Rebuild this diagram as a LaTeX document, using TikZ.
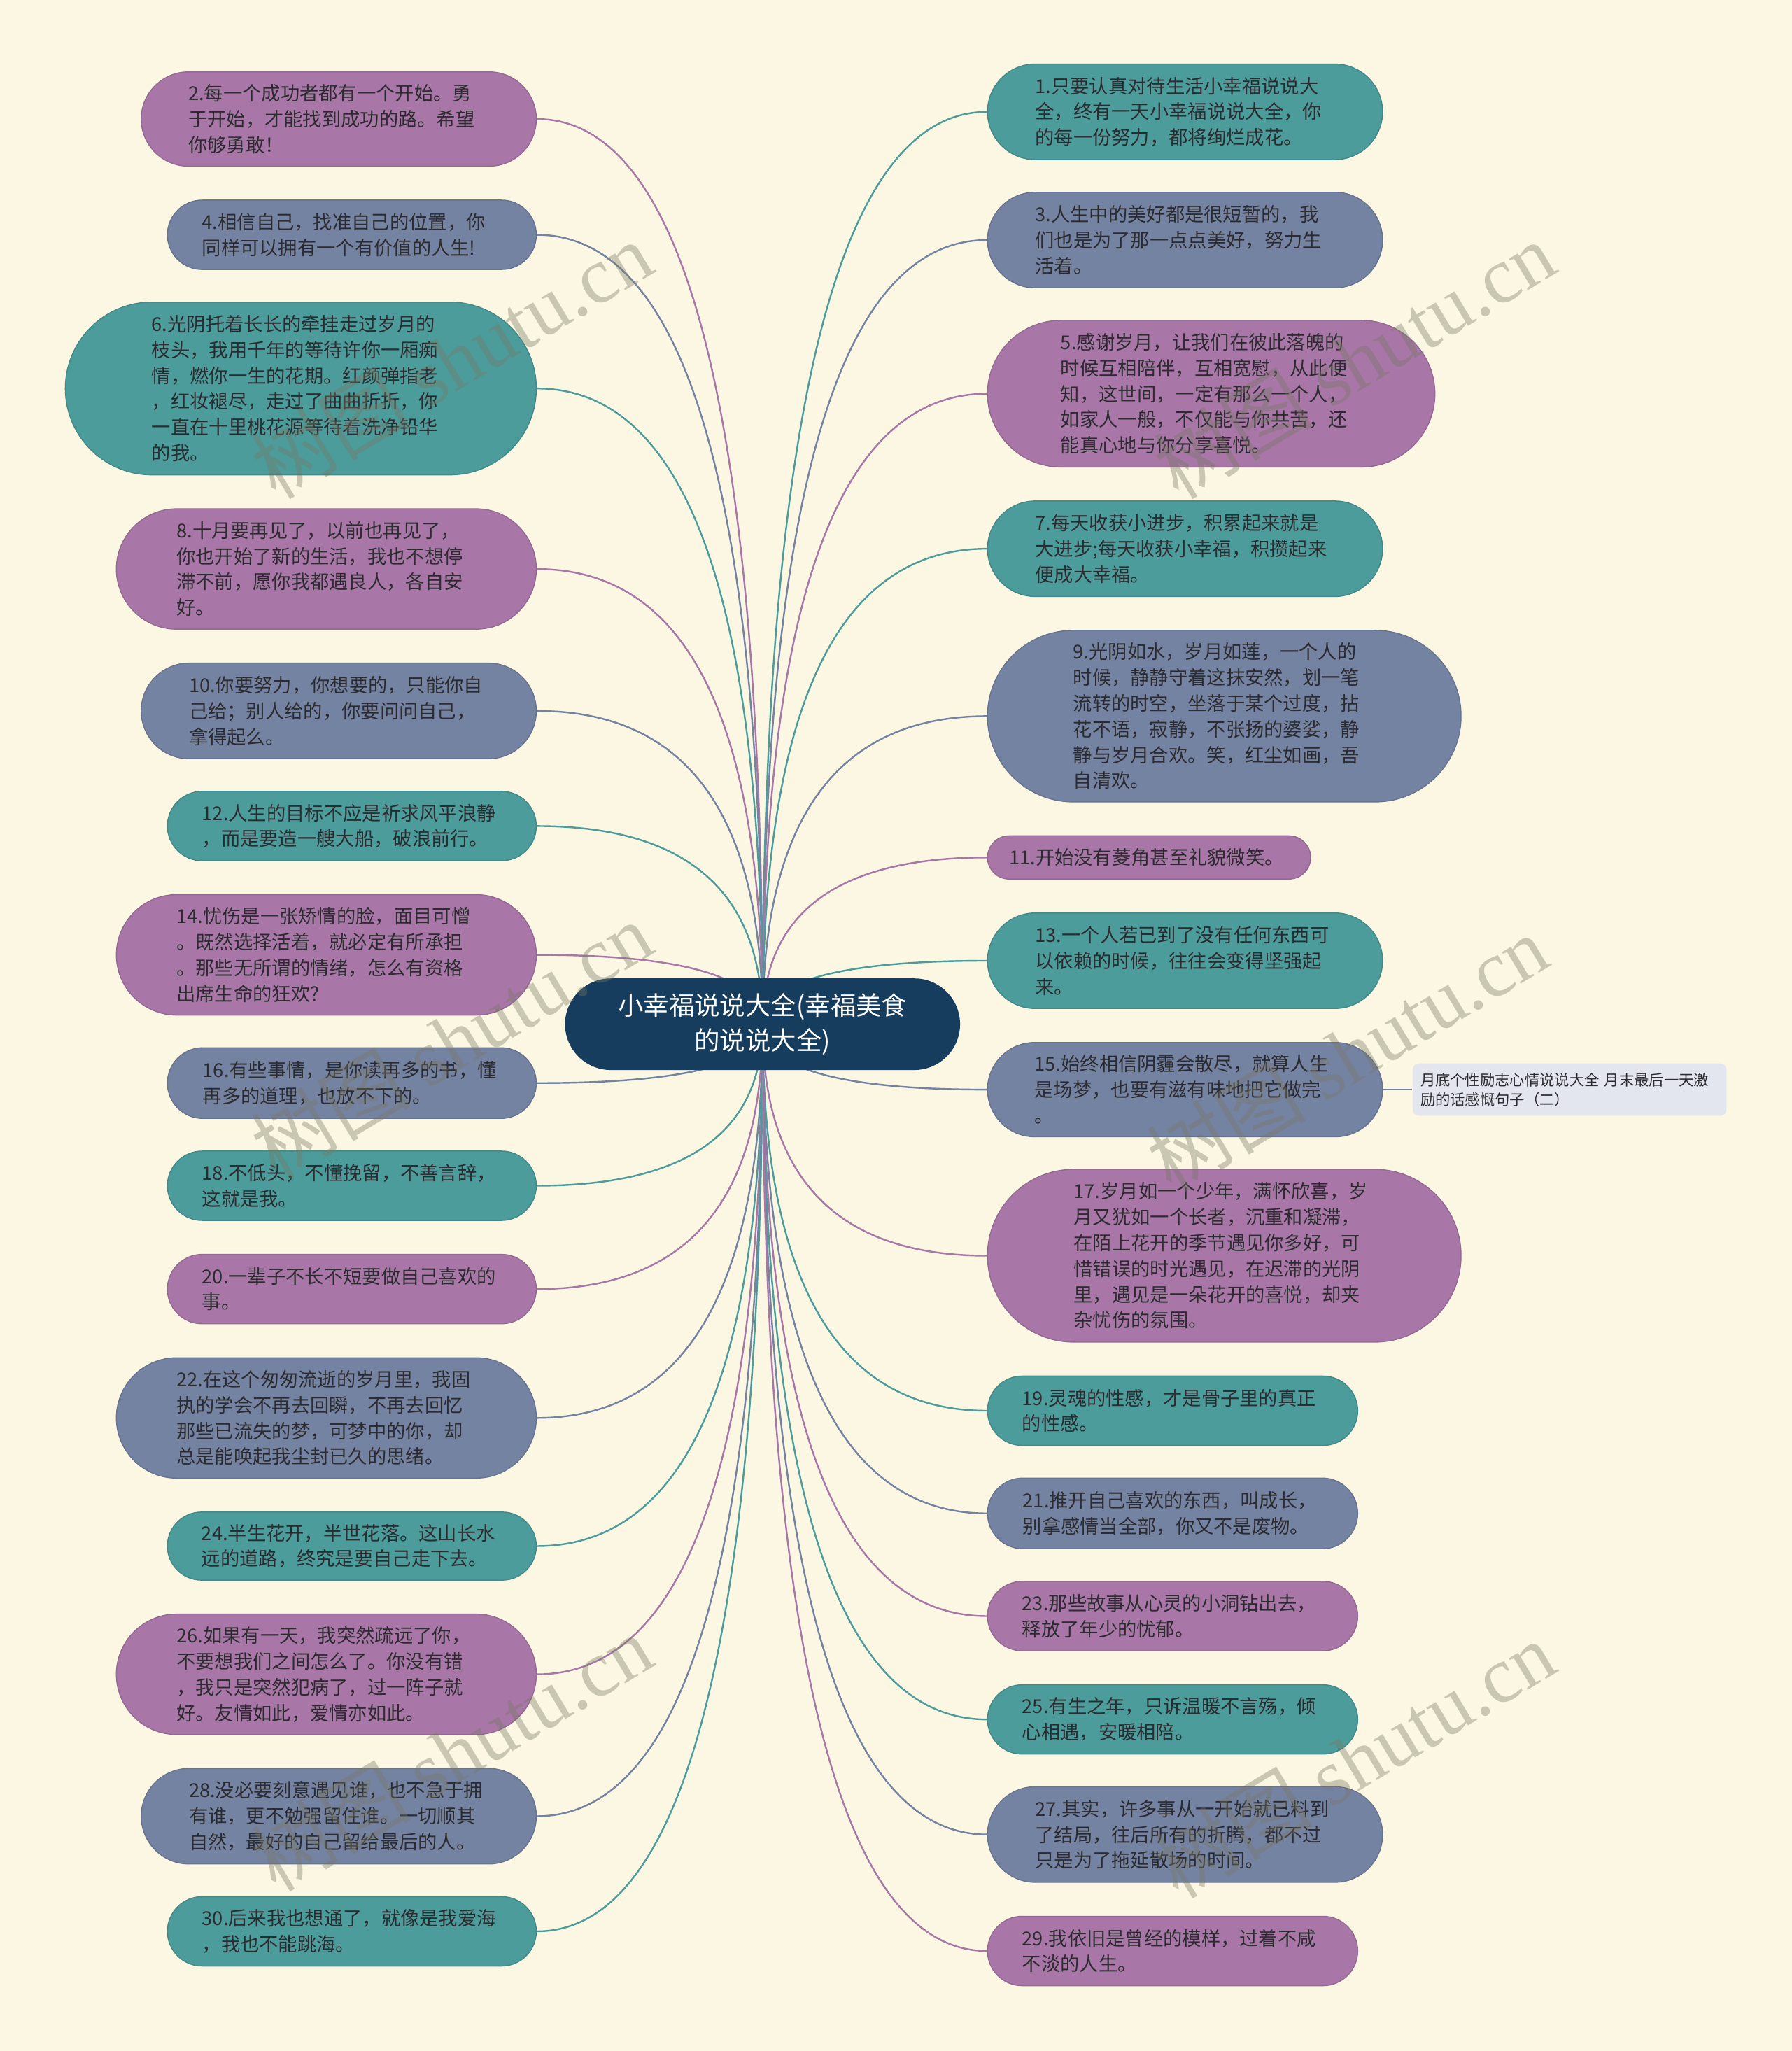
\documentclass[tikz,border=0pt]{standalone}
\usepackage{fontspec}
\setmainfont{Noto Sans CJK SC}
\newfontfamily\wmlatin{Liberation Serif}
\usetikzlibrary{calc}
\definecolor{bgc}{RGB}{251,247,226}
\definecolor{purp}{RGB}{168,119,167}
\definecolor{slat}{RGB}{117,131,163}
\definecolor{tealc}{RGB}{76,156,156}
\definecolor{navyc}{RGB}{23,61,94}
\definecolor{txt}{RGB}{44,44,48}
\definecolor{smallc}{RGB}{227,230,238}
\definecolor{wmc}{RGB}{120,120,100}
\pgfdeclarelayer{back}\pgfdeclarelayer{edges}\pgfdeclarelayer{front}
\pgfsetlayers{back,edges,main,front}
\tikzset{
  bubble/.style={rectangle, inner sep=0pt, align=left, text=txt,
    font=\fontsize{14.6}{19.7}\selectfont, line width=0.8pt},
  rootn/.style={rectangle, inner sep=0pt, fill=navyc, rounded corners=35pt,
    minimum width=302pt, minimum height=70pt, text=white, align=center,
    font=\fontsize{19.5}{27}\selectfont},
  smalln/.style={rectangle, inner sep=0pt, fill=smallc, rounded corners=5pt,
    minimum width=240pt, minimum height=40pt, text width=228pt, align=left,
    text=txt, font=\fontsize{11.4}{15}\selectfont},
  wm/.style={text=wmc, text opacity=0.38, font=\fontsize{61}{61}\selectfont},
  ep/.style={draw=purp, line width=1.3pt},
  es/.style={draw=slat, line width=1.3pt},
  et/.style={draw=tealc, line width=1.3pt}
}
\newcommand\bub[7]{%
  \pgfmathsetmacro\bw{#4-#3}%
  \pgfmathsetmacro\bh{#6-#5}%
  \pgfmathsetmacro\br{\bh/2}%
  \pgfmathsetmacro\btw{\bw-\bh}%
  \node[bubble, fill=#2, draw=#2!88!black, minimum width=\bw pt,
    minimum height=\bh pt, rounded corners=\br pt, text width=\btw pt]
    (#1) at ({(#3+#4)/2},{(#5+#6)/2}) {#7};}
\newcommand\lnk[3]{\draw[#1] (root.center) .. controls
  ($(root.center)!0.667!(root.center|-#2.#3)$) and
  ($(#2.#3)!0.667!(root.center|-#2.#3)$) .. (#2.#3);}
\begin{document}
\begin{tikzpicture}[x=1pt,y=-1pt]
\useasboundingbox (0,0) rectangle (1370,1568);
\begin{pgfonlayer}{back}
\fill[bgc] (0,0) rectangle (1370,1568);
\end{pgfonlayer}

\node[rootn] (root) at (583,783) {小幸福说说大全(幸福美食\\的说说大全)};

% left column
\bub{n2}{purp}{108}{410}{55}{127}{2.每一个成功者都有一个开始。勇\\于开始，才能找到成功的路。希望\\你够勇敢！}
\bub{n4}{slat}{128}{410}{153}{206}{4.相信自己，找准自己的位置，你\\同样可以拥有一个有价值的人生!}
\bub{n6}{tealc}{50}{410}{231}{363}{6.光阴托着长长的牵挂走过岁月的\\枝头，我用千年的等待许你一厢痴\\情，燃你一生的花期。红颜弹指老\\，红妆褪尽，走过了曲曲折折，你\\一直在十里桃花源等待着洗净铅华\\的我。}
\bub{n8}{purp}{89}{410}{389}{481}{8.十月要再见了，以前也再见了，\\你也开始了新的生活，我也不想停\\滞不前，愿你我都遇良人，各自安\\好。}
\bub{n10}{slat}{108}{410}{507}{580}{10.你要努力，你想要的，只能你自\\己给；别人给的，你要问问自己，\\拿得起么。}
\bub{n12}{tealc}{128}{410}{605}{658}{12.人生的目标不应是祈求风平浪静\\，而是要造一艘大船，破浪前行。}
\bub{n14}{purp}{89}{410}{684}{776}{14.忧伤是一张矫情的脸，面目可憎\\。既然选择活着，就必定有所承担\\。那些无所谓的情绪，怎么有资格\\出席生命的狂欢?}
\bub{n16}{slat}{128}{410}{801}{855}{16.有些事情，是你读再多的书，懂\\再多的道理，也放不下的。}
\bub{n18}{tealc}{128}{410}{880}{933}{18.不低头，不懂挽留，不善言辞，\\这就是我。}
\bub{n20}{purp}{128}{410}{959}{1012}{20.一辈子不长不短要做自己喜欢的\\事。}
\bub{n22}{slat}{89}{410}{1038}{1130}{22.在这个匆匆流逝的岁月里，我固\\执的学会不再去回瞬，不再去回忆\\那些已流失的梦，可梦中的你，却\\总是能唤起我尘封已久的思绪。}
\bub{n24}{tealc}{128}{410}{1156}{1208}{24.半生花开，半世花落。这山长水\\远的道路，终究是要自己走下去。}
\bub{n26}{purp}{89}{410}{1234}{1326}{26.如果有一天，我突然疏远了你，\\不要想我们之间怎么了。你没有错\\，我只是突然犯病了，过一阵子就\\好。友情如此，爱情亦如此。}
\bub{n28}{slat}{108}{410}{1352}{1425}{28.没必要刻意遇见谁，也不急于拥\\有谁，更不勉强留住谁。一切顺其\\自然，最好的自己留给最后的人。}
\bub{n30}{tealc}{128}{410}{1450}{1503}{30.后来我也想通了，就像是我爱海\\，我也不能跳海。}

% right column
\bub{n1}{tealc}{755}{1057}{49}{122}{1.只要认真对待生活小幸福说说大\\全，终有一天小幸福说说大全，你\\的每一份努力，都将绚烂成花。}
\bub{n3}{slat}{755}{1057}{147}{220}{3.人生中的美好都是很短暂的，我\\们也是为了那一点点美好，努力生\\活着。}
\bub{n5}{purp}{755}{1097}{245}{357}{5.感谢岁月，让我们在彼此落魄的\\时候互相陪伴，互相宽慰，从此便\\知，这世间，一定有那么一个人，\\如家人一般，不仅能与你共苦，还\\能真心地与你分享喜悦。}
\bub{n7}{tealc}{755}{1057}{383}{456}{7.每天收获小进步，积累起来就是\\大进步;每天收获小幸福，积攒起来\\便成大幸福。}
\bub{n9}{slat}{755}{1117}{482}{613}{9.光阴如水，岁月如莲，一个人的\\时候，静静守着这抹安然，划一笔\\流转的时空，坐落于某个过度，拈\\花不语，寂静，不张扬的婆娑，静\\静与岁月合欢。笑，红尘如画，吾\\自清欢。}
\bub{n11}{purp}{755}{1002}{639}{672}{11.开始没有菱角甚至礼貌微笑。}
\bub{n13}{tealc}{755}{1057}{698}{771}{13.一个人若已到了没有任何东西可\\以依赖的时候，往往会变得坚强起\\来。}
\bub{n15}{slat}{755}{1057}{797}{869}{15.始终相信阴霾会散尽，就算人生\\是场梦，也要有滋有味地把它做完\\。}
\bub{n17}{purp}{755}{1117}{894}{1026}{17.岁月如一个少年，满怀欣喜，岁\\月又犹如一个长者，沉重和凝滞，\\在陌上花开的季节遇见你多好，可\\惜错误的时光遇见，在迟滞的光阴\\里，遇见是一朵花开的喜悦，却夹\\杂忧伤的氛围。}
\bub{n19}{tealc}{755}{1038}{1052}{1105}{19.灵魂的性感，才是骨子里的真正\\的性感。}
\bub{n21}{slat}{755}{1038}{1130}{1184}{21.推开自己喜欢的东西，叫成长，\\别拿感情当全部，你又不是废物。}
\bub{n23}{purp}{755}{1038}{1209}{1262}{23.那些故事从心灵的小洞钻出去，\\释放了年少的忧郁。}
\bub{n25}{tealc}{755}{1038}{1288}{1341}{25.有生之年，只诉温暖不言殇，倾\\心相遇，安暖相陪。}
\bub{n27}{slat}{755}{1057}{1366}{1439}{27.其实，许多事从一开始就已料到\\了结局，往后所有的折腾，都不过\\只是为了拖延散场的时间。}
\bub{n29}{purp}{755}{1038}{1465}{1518}{29.我依旧是曾经的模样，过着不咸\\不淡的人生。}

\node[smalln] (s15) at (1200,833) {月底个性励志心情说说大全 月末最后一天激\\励的话感慨句子（二）};

\begin{pgfonlayer}{edges}
\lnk{ep}{n2}{east}\lnk{es}{n4}{east}\lnk{et}{n6}{east}
\lnk{ep}{n8}{east}\lnk{es}{n10}{east}\lnk{et}{n12}{east}
\lnk{ep}{n14}{east}\lnk{es}{n16}{east}\lnk{et}{n18}{east}
\lnk{ep}{n20}{east}\lnk{es}{n22}{east}\lnk{et}{n24}{east}
\lnk{ep}{n26}{east}\lnk{es}{n28}{east}\lnk{et}{n30}{east}
\lnk{et}{n1}{west}\lnk{es}{n3}{west}\lnk{ep}{n5}{west}
\lnk{et}{n7}{west}\lnk{es}{n9}{west}\lnk{ep}{n11}{west}
\lnk{et}{n13}{west}\lnk{es}{n15}{west}\lnk{ep}{n17}{west}
\lnk{et}{n19}{west}\lnk{es}{n21}{west}\lnk{ep}{n23}{west}
\lnk{et}{n25}{west}\lnk{es}{n27}{west}\lnk{ep}{n29}{west}
\draw[es] (n15.east) -- (s15.west);
\end{pgfonlayer}

\begin{pgfonlayer}{front}
\node[wm, rotate=31] (w1) at (345,275) {树图 {\wmlatin shutu.cn}};
\node[wm, rotate=31] (w2) at (1035,275) {树图 {\wmlatin shutu.cn}};
\node[wm, rotate=31] (w3) at (345,795) {树图 {\wmlatin shutu.cn}};
\node[wm, rotate=31] (w4) at (1030,805) {树图 {\wmlatin shutu.cn}};
\node[wm, rotate=31] (w5) at (345,1340) {树图 {\wmlatin shutu.cn}};
\node[wm, rotate=31] (w6) at (1035,1345) {树图 {\wmlatin shutu.cn}};
\end{pgfonlayer}
\end{tikzpicture}
\end{document}
